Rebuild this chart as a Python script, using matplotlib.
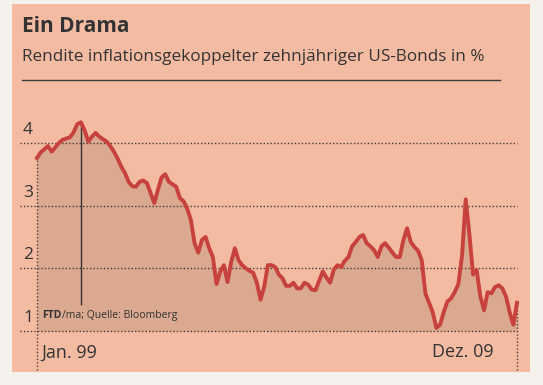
import numpy as np
import matplotlib
matplotlib.use("Agg")
import matplotlib.pyplot as plt

## data: monthly yields, Jan 1999 .. Dec 2009
yields = [
    3.76, 3.85, 3.90, 3.95, 3.86, 3.93, 4.00, 4.05, 4.07, 4.09, 4.17, 4.30,   # 1999
    4.33, 4.20, 4.02, 4.10, 4.16, 4.10, 4.06, 4.02, 3.95, 3.86, 3.75, 3.62,   # 2000
    3.52, 3.38, 3.31, 3.30, 3.38, 3.40, 3.36, 3.20, 3.04, 3.25, 3.45, 3.50,   # 2001
    3.38, 3.34, 3.30, 3.12, 3.07, 2.95, 2.77, 2.40, 2.25, 2.45, 2.50, 2.32,   # 2002
    2.18, 1.75, 1.95, 2.05, 1.78, 2.10, 2.32, 2.13, 2.05, 2.00, 1.96, 1.93,   # 2003
    1.77, 1.50, 1.70, 2.05, 2.05, 2.02, 1.90, 1.84, 1.72, 1.72, 1.77, 1.68,   # 2004
    1.68, 1.77, 1.74, 1.66, 1.65, 1.80, 1.95, 1.85, 1.77, 1.98, 2.05, 2.02,   # 2005
    2.12, 2.18, 2.35, 2.42, 2.50, 2.53, 2.40, 2.35, 2.29, 2.18, 2.35, 2.40,   # 2006
    2.33, 2.25, 2.18, 2.18, 2.45, 2.64, 2.42, 2.34, 2.28, 2.13, 1.60, 1.45,   # 2007
    1.30, 1.05, 1.10, 1.30, 1.47, 1.52, 1.62, 1.75, 2.20, 3.10, 2.55, 1.90,   # 2008
    1.97, 1.55, 1.33, 1.62, 1.60, 1.70, 1.73, 1.68, 1.55, 1.30, 1.10, 1.45,   # 2009
]
yTicks = [1, 2, 3, 4]
startLabel = "Jan. 99"
endLabel = "Dez. 09"
peakMonth = 12

title = "Ein Drama"
subtitle = "Rendite inflationsgekoppelter zehnjähriger US-Bonds in %"
sourceBold = "FTD"
source = "/ma; Quelle: Bloomberg"

## colours
paper = "#f4bba3"
fillCol = "#daa990"
lineCol = "#c8423d"
textCol = "#333333"
gridCol = "#4a3a35"

plt.rcParams['font.family'] = ['Open Sans', 'DejaVu Sans']

W, H = 543, 385
fig = plt.figure(figsize=(W / 100, H / 100), dpi=100)
fig.patch.set_facecolor("#f4f0ec")

# salmon card as a background axes
bg = fig.add_axes([12 / W, 1 - 372 / H, (530 - 12) / W, (372 - 4) / H])
bg.set_facecolor(paper)
bg.set_xticks([])
bg.set_yticks([])
for s in bg.spines.values():
    s.set_visible(False)
bg.set_zorder(0)

## header
fig.text(22 / W, 1 - 27 / H, title, fontsize=15, fontweight="bold",
         color=textCol, va="center", ha="left")
fig.text(22 / W, 1 - 57 / H, subtitle, fontsize=12.3, color=textCol,
         va="center", ha="left")
fig.add_artist(plt.Line2D([22 / W, 500 / W], [1 - 80 / H, 1 - 80 / H],
                          color="#3a3a3a", lw=1.0))

## chart area
x0, x1, yTop, yBot = 20, 520, 90, 372
ax = fig.add_axes([x0 / W, 1 - yBot / H, (x1 - x0) / W, (yBot - yTop) / H])
ax.set_zorder(1)
ax.set_facecolor("none")
ax.set_xlim(-4.64, 131.82)
ax.set_ylim(0.346, 4.844)
ax.axis("off")

months = np.arange(len(yields))
last = months[-1]

ax.fill_between(months, 1, yields, color=fillCol, lw=0, zorder=1)

for t in yTicks:
    ax.hlines(t, -4.64, last, colors=gridCol, linestyles=(0, (1, 1.5)),
              lw=1.0, zorder=2)
    ax.text(-3.8, t + 0.08, str(t), fontsize=12.5, color=textCol,
            ha="left", va="bottom", zorder=4)

ax.vlines([0], 0.37, yields[0], colors=gridCol, linestyles=(0, (1, 1.5)),
          lw=1.0, zorder=2)
ax.vlines([last], 0.37, yields[-1], colors=gridCol, linestyles=(0, (1, 1.5)),
          lw=1.0, zorder=2)
ax.vlines([peakMonth], 1.41, yields[peakMonth], colors="#3a3230", lw=1.0, zorder=2)

ax.plot(months, yields, color=lineCol, lw=2.8, solid_joinstyle="round",
        zorder=3)

ftd = ax.text(1.5, 1.2, sourceBold, fontsize=7.5, fontweight="bold",
              color=textCol, ha="left", va="baseline", zorder=4)
ax.annotate(source, xy=(1, 0), xycoords=ftd, fontsize=7.5, color=textCol,
            ha="left", va="bottom", zorder=4)

ax.text(1.2, 0.66, startLabel, fontsize=13, color=textCol, ha="left",
        va="center")
ax.text(last - 6.5, 0.66, endLabel, fontsize=13, color=textCol, ha="right",
        va="center")

fig.savefig("out.png", dpi=100, facecolor=fig.get_facecolor())
